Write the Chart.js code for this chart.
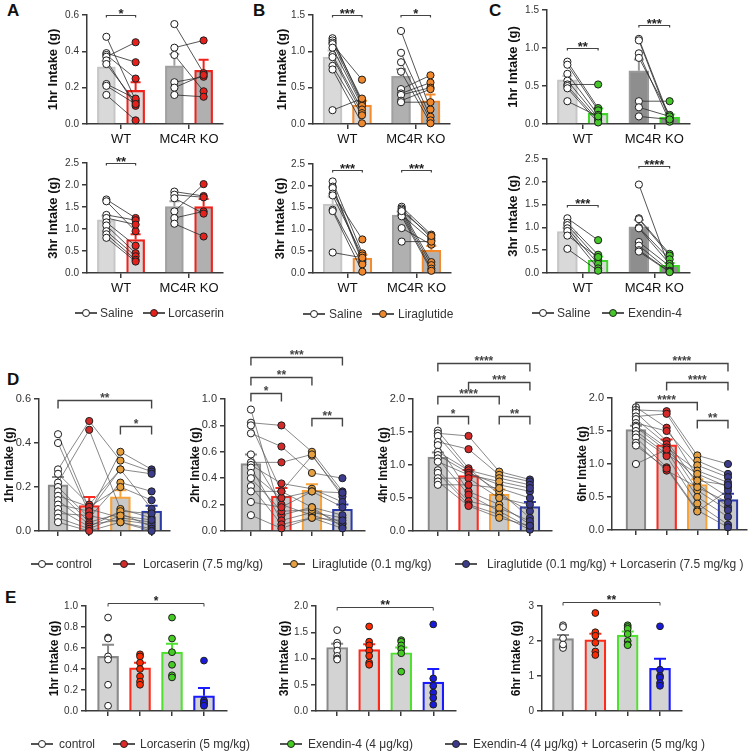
<!DOCTYPE html>
<html><head><meta charset="utf-8">
<script src="https://cdn.jsdelivr.net/npm/chart.js@4.4.1/dist/chart.umd.min.js"></script>
<style>
body{margin:0;background:#fff;width:749px;height:752px;position:relative;overflow:hidden;font-family:"Liberation Sans",Arial,Helvetica,sans-serif;}
canvas.c{position:absolute;}
.lt{position:absolute;font-weight:bold;font-size:17px;line-height:17px;color:#111;}
.lg{position:absolute;font-size:12px;line-height:14px;color:#333;white-space:nowrap;}
.mk{position:absolute;width:22px;height:10px;}
.mk::before{content:'';position:absolute;left:0;right:0;top:4.4px;height:1.2px;background:#555;}
.mk i{position:absolute;left:7px;top:1px;width:8px;height:8px;box-sizing:border-box;border-radius:50%;border:1.2px solid #222;}
</style></head><body>
<div class="lt" style="left:7px;top:2px">A</div>
<div class="lt" style="left:253px;top:2px">B</div>
<div class="lt" style="left:489px;top:2px">C</div>
<div class="lt" style="left:7px;top:371px">D</div>
<div class="lt" style="left:5px;top:589px">E</div>
<script>
// ---------------- DATA ----------------
const groupLabels = ['WT', 'MC4R KO'];
const legendA = ['Saline', 'Lorcaserin'];
const legendB = ['Saline', 'Liraglutide'];
const legendC = ['Saline', 'Exendin-4'];
const legendD = ['control', 'Lorcaserin (7.5 mg/kg)', 'Liraglutide (0.1 mg/kg)', 'Liraglutide (0.1 mg/kg) + Lorcaserin (7.5 mg/kg )'];
const legendE = ['control', 'Lorcaserin (5 mg/kg)', 'Exendin-4 (4 \u03bcg/kg)', 'Exendin-4 (4 \u03bcg/kg) + Lorcaserin (5 mg/kg )'];

// Panel A, 1hr
const a1SalWT = [0.48, 0.39, 0.38, 0.37, 0.35, 0.33, 0.22, 0.21, 0.16];
const a1LorWT = [0.13, 0.34, 0.25, 0.45, 0.10, 0.12, 0.14, 0.11, 0.02];
const a1SalKO = [0.55, 0.42, 0.38, 0.23, 0.20, 0.16];
const a1LorKO = [0.28, 0.46, 0.18, 0.26, 0.27, 0.15];
const a1Means = [0.315, 0.185, 0.32, 0.295];
const a1Sem = [0.03, 0.045, 0.065, 0.058];
// Panel A, 3hr
const a2SalWT = [1.67, 1.63, 1.32, 1.25, 1.15, 1.08, 0.95, 0.88, 0.80];
const a2LorWT = [1.25, 0.95, 1.20, 1.10, 0.62, 0.45, 0.38, 0.30, 0.26];
const a2SalKO = [1.85, 1.78, 1.40, 1.25, 1.12, 1.70];
const a2LorKO = [1.75, 1.72, 2.02, 1.40, 0.83, 1.35];
const a2Means = [1.21, 0.76, 1.51, 1.51];
const a2Sem = [0.09, 0.12, 0.12, 0.17];
// Panel B, 1hr
const b1SalWT = [1.18, 1.15, 1.12, 1.10, 1.05, 0.95, 0.92, 0.80, 0.75, 0.19];
const b1LirWT = [0.30, 0.33, 0.28, 0.61, 0.25, 0.20, 0.15, 0.12, 0.01, 0.35];
const b1SalKO = [1.28, 0.98, 0.85, 0.72, 0.48, 0.42, 0.40, 0.32, 0.30];
const b1LirKO = [0.20, 0.10, 0.05, 0.01, 0.67, 0.57, 0.50, 0.48, 0.30];
const b1Means = [0.92, 0.26, 0.655, 0.32];
const b1Sem = [0.09, 0.06, 0.10, 0.085];
// Panel B, 3hr
const b2SalWT = [2.10, 1.98, 1.95, 1.82, 1.78, 1.45, 1.42, 0.47];
const b2LirWT = [0.45, 0.30, 0.25, 0.77, 0.40, 0.20, 0.03, 0.35];
const b2SalKO = [1.52, 1.48, 1.45, 1.40, 1.35, 1.33, 1.30, 1.03, 0.72, 1.42];
const b2LirKO = [0.88, 0.80, 0.25, 0.18, 0.10, 0.75, 0.05, 0.65, 0.72, 0.85];
const b2Means = [1.58, 0.34, 1.33, 0.52];
const b2Sem = [0.17, 0.08, 0.08, 0.10];
// Panel C, 1hr
const c1SalWT = [0.82, 0.78, 0.66, 0.57, 0.52, 0.50, 0.47, 0.30];
const c1ExWT = [0.21, 0.18, 0.12, 0.08, 0.52, 0.05, 0.02, 0.10];
const c1SalKO = [1.12, 1.10, 0.93, 0.87, 0.30, 0.22, 0.10];
const c1ExKO = [0.08, 0.05, 0.03, 0.12, 0.30, 0.10, 0.06];
const c1Means = [0.58, 0.14, 0.70, 0.09];
const c1Sem = [0.05, 0.065, 0.15, 0.035];
// Panel C, 3hr
const c2SalWT = [1.20, 1.10, 1.05, 0.98, 0.92, 0.82, 0.53];
const c2ExWT = [0.72, 0.40, 0.30, 0.20, 0.10, 0.35, 0.05];
const c2SalKO = [1.94, 1.20, 1.18, 1.00, 0.98, 0.68, 0.60, 0.50, 0.47];
const c2ExKO = [0.10, 0.42, 0.38, 0.30, 0.20, 0.15, 0.05, 0.03, 0.02];
const c2Means = [0.91, 0.28, 1.01, 0.17];
const c2Sem = [0.08, 0.08, 0.15, 0.05];

// Panel D (paired across 4 treatments)
const d1Ctl = [0.44, 0.40, 0.28, 0.26, 0.22, 0.20, 0.18, 0.16, 0.14, 0.12, 0.10, 0.08, 0.06, 0.04];
const d1Lor = [0.10, 0.08, 0.50, 0.12, 0.46, 0.06, 0.04, 0.11, 0.03, 0.09, 0.02, 0.07, 0.01, 0.00];
const d1Lir = [0.06, 0.36, 0.32, 0.28, 0.10, 0.22, 0.08, 0.20, 0.05, 0.28, 0.09, 0.04, 0.07, 0.04];
const d1Com = [0.04, 0.28, 0.27, 0.26, 0.06, 0.18, 0.02, 0.14, 0.03, 0.10, 0.08, 0.01, 0.05, 0.00];
const d1Means = [0.21, 0.115, 0.155, 0.09];
const d1Sem = [0.035, 0.04, 0.03, 0.025];

const d2Ctl = [0.92, 0.82, 0.80, 0.74, 0.58, 0.52, 0.50, 0.48, 0.44, 0.40, 0.34, 0.30, 0.22, 0.12];
const d2Lor = [0.12, 0.80, 0.30, 0.64, 0.20, 0.52, 0.36, 0.08, 0.25, 0.15, 0.05, 0.30, 0.18, 0.02];
const d2Lir = [0.18, 0.60, 0.57, 0.44, 0.12, 0.58, 0.32, 0.14, 0.30, 0.16, 0.10, 0.18, 0.30, 0.10];
const d2Com = [0.03, 0.30, 0.28, 0.40, 0.05, 0.26, 0.22, 0.10, 0.18, 0.06, 0.02, 0.12, 0.29, 0.08];
const d2Means = [0.51, 0.265, 0.31, 0.165];
const d2Sem = [0.07, 0.06, 0.045, 0.035];

const d3Ctl = [1.52, 1.48, 1.44, 1.35, 1.30, 1.20, 1.15, 1.10, 1.05, 0.92, 0.88, 0.80, 0.75, 0.70];
const d3Lor = [0.95, 1.44, 0.90, 1.24, 0.60, 0.92, 0.88, 0.55, 0.85, 0.45, 0.40, 0.80, 0.38, 0.70];
const d3Lir = [0.55, 0.90, 0.60, 0.85, 0.40, 0.80, 0.70, 0.30, 0.75, 0.35, 0.25, 0.50, 0.20, 0.65];
const d3Com = [0.30, 0.78, 0.20, 0.75, 0.10, 0.70, 0.60, 0.05, 0.65, 0.15, 0.02, 0.40, 0.08, 0.50];
const d3Means = [1.12, 0.84, 0.56, 0.37];
const d3Sem = [0.07, 0.085, 0.07, 0.07];

const d4Ctl = [1.86, 1.82, 1.78, 1.72, 1.68, 1.62, 1.58, 1.56, 1.50, 1.45, 1.40, 1.32, 1.28, 1.00];
const d4Lor = [1.55, 1.80, 1.35, 1.76, 1.30, 1.50, 1.25, 1.20, 1.15, 1.12, 0.95, 0.90, 0.93, 1.22];
const d4Lir = [0.80, 1.13, 0.70, 1.05, 0.60, 0.98, 0.90, 0.50, 0.85, 0.40, 0.30, 0.65, 0.28, 0.75];
const d4Com = [0.50, 1.00, 0.35, 0.85, 0.30, 0.80, 0.72, 0.20, 0.65, 0.08, 0.04, 0.42, 0.60, 0.68];
const d4Means = [1.52, 1.29, 0.69, 0.46];
const d4Sem = [0.06, 0.08, 0.08, 0.09];

// Panel E (unpaired)
const e1Ctl = [0.89, 0.70, 0.69, 0.52, 0.49, 0.25, 0.05];
const e1Lor = [0.54, 0.52, 0.46, 0.40, 0.33, 0.28, 0.25];
const e1Ex = [0.89, 0.69, 0.56, 0.44, 0.34, 0.32];
const e1Com = [0.48, 0.10, 0.08, 0.06, 0.08, 0.05];
const e1Means = [0.52, 0.41, 0.56, 0.145];
const e1Sem = [0.11, 0.05, 0.08, 0.075];

const e2Ctl = [1.54, 1.30, 1.25, 1.15, 1.05, 1.00, 0.98];
const e2Lor = [1.61, 1.32, 1.25, 1.15, 1.05, 0.92, 0.88];
const e2Ex = [1.35, 1.32, 1.25, 1.18, 1.10, 0.75];
const e2Com = [1.65, 0.62, 0.48, 0.35, 0.25, 0.12];
const e2Means = [1.21, 1.17, 1.11, 0.55];
const e2Sem = [0.07, 0.10, 0.10, 0.25];

const e3Ctl = [2.45, 2.40, 2.08, 1.85, 1.80, 1.90];
const e3Lor = [2.80, 2.25, 2.15, 1.95, 1.70, 1.60];
const e3Ex = [2.45, 2.40, 2.35, 2.20, 2.00, 1.90, 1.88];
const e3Com = [2.42, 1.18, 1.00, 0.95, 0.80, 0.72];
const e3Means = [2.07, 2.03, 2.17, 1.22];
const e3Sem = [0.10, 0.18, 0.10, 0.27];

// ---------------- STYLE ----------------
const FONT = '"Liberation Sans", Arial, Helvetica, sans-serif';
Chart.defaults.font.family = FONT;
Chart.defaults.animation = false;
const AX = '#3a3a3a';

const annot = {
  id: 'annot',
  afterDatasetDraw(chart, args) {
    const s = chart.canvas.$spec;
    if (!s || args.index !== 0) return;
    const y = chart.scales.y, ctx = chart.ctx;
    args.meta.data.forEach((bar, i) => {
      const yt = y.getPixelForValue(s.means[i]);
      const ye = y.getPixelForValue(s.means[i] + s.sems[i]);
      ctx.save();
      ctx.strokeStyle = s.borders[i];
      ctx.lineWidth = s.ebW;
      ctx.beginPath();
      ctx.moveTo(bar.x, yt); ctx.lineTo(bar.x, ye);
      ctx.moveTo(bar.x - s.cap, ye); ctx.lineTo(bar.x + s.cap, ye);
      ctx.stroke();
      ctx.restore();
    });
  },
  afterDraw(chart) {
    const s = chart.canvas.$spec;
    if (!s) return;
    const xs = chart.scales.x, ctx = chart.ctx, top = chart.canvas.$top;
    ctx.save();
    (s.brackets || []).forEach(b => {
      const x1 = xs.getPixelForValue(s.pos[b[0]]);
      const x2 = xs.getPixelForValue(s.pos[b[1]]);
      const yy = b[3] - top + 0.5;
      ctx.strokeStyle = s.brColor; ctx.lineWidth = s.brW;
      ctx.beginPath();
      ctx.moveTo(x1, yy + s.drop); ctx.lineTo(x1, yy); ctx.lineTo(x2, yy); ctx.lineTo(x2, yy + s.drop);
      ctx.stroke();
      ctx.fillStyle = s.starColor;
      ctx.font = 'bold ' + s.starSize + 'px ' + FONT;
      ctx.textAlign = 'center'; ctx.textBaseline = 'alphabetic';
      ctx.fillText(b[2], (x1 + x2) / 2, yy + s.starOff);
    });
    ctx.restore();
  }
};

function makeChart(s) {
  const padL = 62, padT = 75, padR = 8, padB = 28;
  const left = s.axisX - padL, top = s.topY - padT;
  const w = s.rightX - left + padR, h = s.bottomY - top + padB;
  const cv = document.createElement('canvas');
  cv.className = 'c';
  cv.style.left = left + 'px'; cv.style.top = top + 'px';
  cv.width = w; cv.height = h; cv.style.width = w + 'px'; cv.style.height = h + 'px';
  cv.$spec = s; cv.$top = top;
  document.body.appendChild(cv);

  const datasets = [];
  datasets.push({
    type: 'bar',
    data: s.pos.map((x, i) => ({x: x, y: s.means[i]})),
    backgroundColor: s.fills, borderColor: s.borders, borderWidth: s.barBW,
    borderSkipped: 'start', barThickness: s.barW, grouped: false, order: 3, clip: false
  });
  (s.chains || []).forEach(chain => {
    const n = s.sets[chain[0]].length;
    for (let k = 0; k < n; k++) {
      datasets.push({
        type: 'line',
        data: chain.map(si => ({x: s.pos[si], y: s.sets[si][k]})),
        borderColor: s.lineColor, borderWidth: s.lineW, pointRadius: 0, fill: false,
        order: 2, clip: false
      });
    }
  });
  s.sets.forEach((arr, i) => {
    datasets.push({
      type: 'scatter',
      data: arr.map(v => ({x: s.pos[i], y: v})),
      pointBackgroundColor: s.ptFill[i], pointBorderColor: '#1e1e1e',
      pointBorderWidth: 1, pointRadius: s.ptR, showLine: false, order: 1, clip: false
    });
  });

  return new Chart(cv, {
    type: 'bar',
    data: {datasets},
    options: {
      responsive: false, animation: false,
      layout: {padding: {left: 0, top: padT, right: padR, bottom: 0}},
      plugins: {legend: {display: false}, tooltip: {enabled: false}},
      scales: {
        x: {
          type: 'linear', min: 0, max: s.xMax, offset: false, bounds: 'data',
          grid: {display: true, drawOnChartArea: false, drawTicks: true, tickLength: 5, color: AX, lineWidth: 1.5, offset: false},
          border: {display: true, color: AX, width: 1.5},
          afterBuildTicks: sc => { sc.ticks = s.xTicks.map(v => ({value: v})); },
          ticks: {autoSkip: false, maxRotation: 0, minRotation: 0, padding: 3, color: '#111',
            font: {size: 13}, callback: (v, i) => (s.xLabels ? s.xLabels[i] : '')},
          afterFit: sc => { sc.height = padB; }
        },
        y: {
          type: 'linear', min: 0, max: s.ymax, bounds: 'data',
          grid: {display: true, drawOnChartArea: false, drawTicks: true, tickLength: 5, color: AX, lineWidth: 1.5},
          border: {display: true, color: AX, width: 1.5},
          ticks: {stepSize: s.ystep, color: '#333', font: {size: s.tickSize}, padding: 3,
            callback: v => v.toFixed(s.dec)},
          title: {display: true, text: s.title, color: '#111',
            font: {size: s.titleSize, weight: 'bold'},
            padding: {top: padL - s.titleOff - s.titleSize * 0.6, bottom: 0}},
          afterFit: sc => { sc.width = padL; }
        }
      }
    },
    plugins: [annot]
  });
}

function legendItem(x, yc, fill, text, tx) {
  const m = document.createElement('div');
  m.className = 'mk'; m.style.left = x + 'px'; m.style.top = (yc - 5) + 'px';
  m.innerHTML = '<i style="background:' + fill + '"></i>';
  document.body.appendChild(m);
  const t = document.createElement('div');
  t.className = 'lg'; t.style.left = tx + 'px'; t.style.top = (yc - 7) + 'px';
  t.textContent = text;
  document.body.appendChild(t);
}

// -------- A-C common --------
const posAC = [0.57, 1.43, 2.57, 3.43];
function acSpec(o) {
  return Object.assign({
    xMax: 4, pos: posAC, xTicks: [1, 3], xLabels: groupLabels, chains: [[0, 1], [2, 3]],
    dec: 1, tickSize: 10, titleSize: 13, titleOff: 34, barBW: 2.2, ebW: 2, cap: 5,
    lineColor: '#2a2a2a', lineW: 0.8, ptR: 3.6,
    brColor: '#444', brW: 1.2, drop: 2, starColor: '#222', starSize: 13, starOff: 2
  }, o);
}
const RED = '#f0221c', ORG = '#f28a2e', GRN = '#3fd62a';
const LWT = '#d9d9d9', LWTb = '#c6c6c6', LKO = '#b0b0b0', LKOb = '#a0a0a0', LKOc = '#8e8e8e', LKOcb = '#9a9a9a';

makeChart(acSpec({axisX: 87, topY: 15, rightX: 223, bottomY: 124, ymax: 0.6, ystep: 0.2,
  title: '1hr Intake (g)', means: a1Means, sems: a1Sem, sets: [a1SalWT, a1LorWT, a1SalKO, a1LorKO],
  fills: [LWT, LWT, LKO, LKO], borders: [LWTb, RED, LKOb, RED], ptFill: ['#fff', '#e8201c', '#fff', '#e8201c'],
  barW: 18, brackets: [[0, 1, '*', 15]]}));
makeChart(acSpec({axisX: 87, topY: 163, rightX: 223, bottomY: 273, ymax: 2.5, ystep: 0.5,
  title: '3hr Intake (g)', means: a2Means, sems: a2Sem, sets: [a2SalWT, a2LorWT, a2SalKO, a2LorKO],
  fills: [LWT, LWT, LKO, LKO], borders: [LWTb, RED, LKOb, RED], ptFill: ['#fff', '#e8201c', '#fff', '#e8201c'],
  barW: 18, brackets: [[0, 1, '**', 163]]}));
makeChart(acSpec({axisX: 313, topY: 15, rightX: 450, bottomY: 124, ymax: 1.5, ystep: 0.5,
  title: '1hr Intake (g)', means: b1Means, sems: b1Sem, sets: [b1SalWT, b1LirWT, b1SalKO, b1LirKO],
  fills: [LWT, LWT, LKO, LKO], borders: [LWTb, ORG, LKOb, ORG], ptFill: ['#fff', '#f0892e', '#fff', '#f0892e'],
  barW: 19, titleOff: 31, brackets: [[0, 1, '***', 15], [2, 3, '*', 15]]}));
makeChart(acSpec({axisX: 313, topY: 164, rightX: 451, bottomY: 273, ymax: 2.5, ystep: 0.5,
  title: '3hr Intake (g)', means: b2Means, sems: b2Sem, sets: [b2SalWT, b2LirWT, b2SalKO, b2LirKO],
  fills: [LWT, LWT, LKO, LKO], borders: [LWTb, ORG, LKOb, ORG], ptFill: ['#fff', '#f0892e', '#fff', '#f0892e'],
  barW: 19, titleOff: 33, brackets: [[0, 1, '***', 170], [2, 3, '***', 170]]}));
makeChart(acSpec({axisX: 547, topY: 10, rightX: 690, bottomY: 124, ymax: 1.5, ystep: 0.5,
  title: '1hr Intake (g)', means: c1Means, sems: c1Sem, sets: [c1SalWT, c1ExWT, c1SalKO, c1ExKO],
  fills: [LWT, LWT, LKOc, LKOc], borders: [LWTb, GRN, LKOcb, GRN], ptFill: ['#fff', '#45c72a', '#fff', '#45c72a'],
  barW: 20, brackets: [[0, 1, '**', 48], [2, 3, '***', 25]]}));
makeChart(acSpec({axisX: 547, topY: 159, rightX: 690, bottomY: 273, ymax: 2.5, ystep: 0.5,
  title: '3hr Intake (g)', means: c2Means, sems: c2Sem, sets: [c2SalWT, c2ExWT, c2SalKO, c2ExKO],
  fills: [LWT, LWT, LKOc, LKOc], borders: [LWTb, GRN, LKOcb, GRN], ptFill: ['#fff', '#45c72a', '#fff', '#45c72a'],
  barW: 20, brackets: [[0, 1, '***', 205], [2, 3, '****', 166]]}));

legendItem(75, 313, '#fff', legendA[0], 100); legendItem(143, 313, '#e8201c', legendA[1], 168);
legendItem(303, 314, '#fff', legendB[0], 329); legendItem(372, 314, '#f0892e', legendB[1], 398);
legendItem(532, 313, '#fff', legendC[0], 557); legendItem(602, 313, '#45c72a', legendC[1], 628);

// -------- D --------
const DF = '#c9c9c9';
const dBorders = ['#8a8a8a', '#ff2a1f', '#f7a23a', '#2a3aa8'];
const dPts = ['#fff', '#d42a2a', '#e6a040', '#3c3c8c'];
function dSpec(o) {
  const p = [0, 1, 2, 3].map(i => o.p0 + i);
  return Object.assign({
    pos: p, xTicks: p, xLabels: null, chains: [[0, 1, 2, 3]],
    tickSize: 11, titleSize: 12, titleOff: 29, barBW: 2.2, ebW: 2, cap: 6, barW: 20,
    fills: [DF, DF, DF, DF], borders: dBorders, ptFill: dPts,
    lineColor: '#555', lineW: 0.7, ptR: 3.6,
    brColor: '#444', brW: 1.4, drop: 8, starColor: '#444', starSize: 12, starOff: 1
  }, o);
}
makeChart(dSpec({axisX: 39, topY: 399, rightX: 170, bottomY: 531, ymax: 0.6, ystep: 0.2, dec: 1,
  xMax: 4.2, p0: 0.61, title: '1hr Intake (g)', means: d1Means, sems: d1Sem, sets: [d1Ctl, d1Lor, d1Lir, d1Com],
  brackets: [[0, 3, '**', 400], [2, 3, '*', 426]]}));
makeChart(dSpec({axisX: 225, topY: 399, rightX: 365, bottomY: 531, ymax: 1.0, ystep: 0.2, dec: 1,
  xMax: 4.59, p0: 0.85, title: '2hr Intake (g)', means: d2Means, sems: d2Sem, sets: [d2Ctl, d2Lor, d2Lir, d2Com],
  brackets: [[0, 3, '***', 357], [0, 2, '**', 377], [0, 1, '*', 393], [2, 3, '**', 418]]}));
makeChart(dSpec({axisX: 413, topY: 399, rightX: 552, bottomY: 531, ymax: 2.0, ystep: 0.5, dec: 1,
  xMax: 4.53, p0: 0.81, title: '4hr Intake (g)', means: d3Means, sems: d3Sem, sets: [d3Ctl, d3Lor, d3Lir, d3Com],
  brackets: [[0, 3, '****', 363], [1, 3, '***', 382], [0, 2, '****', 396], [0, 1, '*', 416], [2, 3, '**', 416]]}));
makeChart(dSpec({axisX: 612, topY: 398, rightX: 747, bottomY: 530, ymax: 2.0, ystep: 0.5, dec: 1,
  xMax: 4.40, p0: 0.78, title: '6hr Intake (g)', means: d4Means, sems: d4Sem, sets: [d4Ctl, d4Lor, d4Lir, d4Com],
  brackets: [[0, 3, '****', 363], [1, 3, '****', 382], [0, 2, '****', 402], [2, 3, '**', 420]]}));

legendItem(31, 564, '#fff', legendD[0], 56);
legendItem(113, 564, '#d42a2a', legendD[1], 143);
legendItem(283, 564, '#e6a040', legendD[2], 312);
legendItem(455, 564, '#3c3c8c', legendD[3], 487);

// -------- E --------
const EF = '#d3d3d3';
const eBorders = ['#8a8a8a', '#ff2a1a', '#4ee12e', '#1a1aff'];
const ePts = ['#fff', '#ff2a00', '#44cc22', '#1a1add'];
function eSpec(o) {
  const p = [0, 1, 2, 3].map(i => o.p0 + i);
  return Object.assign({
    pos: p, xTicks: p, xLabels: null, chains: [],
    tickSize: 10, titleSize: 12, titleOff: 31, barBW: 2.2, ebW: 2, cap: 6, barW: 21,
    fills: [EF, EF, EF, EF], borders: eBorders, ptFill: ePts,
    lineColor: '#555', lineW: 0.7, ptR: 3.4,
    brColor: '#444', brW: 1, drop: 3, starColor: '#222', starSize: 12, starOff: 1
  }, o);
}
makeChart(eSpec({axisX: 86, topY: 606, rightX: 227, bottomY: 711, ymax: 1.0, ystep: 0.2, dec: 1,
  xMax: 4.41, p0: 0.69, title: '1hr Intake (g)', means: e1Means, sems: e1Sem, sets: [e1Ctl, e1Lor, e1Ex, e1Com],
  brackets: [[0, 3, '*', 603]]}));
makeChart(eSpec({axisX: 316, topY: 606, rightX: 456, bottomY: 711, ymax: 2.0, ystep: 0.5, dec: 1,
  xMax: 4.37, p0: 0.66, title: '3hr Intake (g)', means: e2Means, sems: e2Sem, sets: [e2Ctl, e2Lor, e2Ex, e2Com],
  brackets: [[0, 3, '**', 607]]}));
makeChart(eSpec({axisX: 542, topY: 606, rightX: 682, bottomY: 711, ymax: 3, ystep: 1, dec: 0,
  xMax: 4.33, p0: 0.65, title: '6hr Intake (g)', titleOff: 25, means: e3Means, sems: e3Sem, sets: [e3Ctl, e3Lor, e3Ex, e3Com],
  brackets: [[0, 3, '**', 602]]}));

legendItem(31, 744, '#fff', legendE[0], 59);
legendItem(113, 744, '#e02a2a', legendE[1], 140);
legendItem(280, 744, '#44cc22', legendE[2], 308);
legendItem(445, 744, '#3a3a8c', legendE[3], 473);
</script>
</body></html>
